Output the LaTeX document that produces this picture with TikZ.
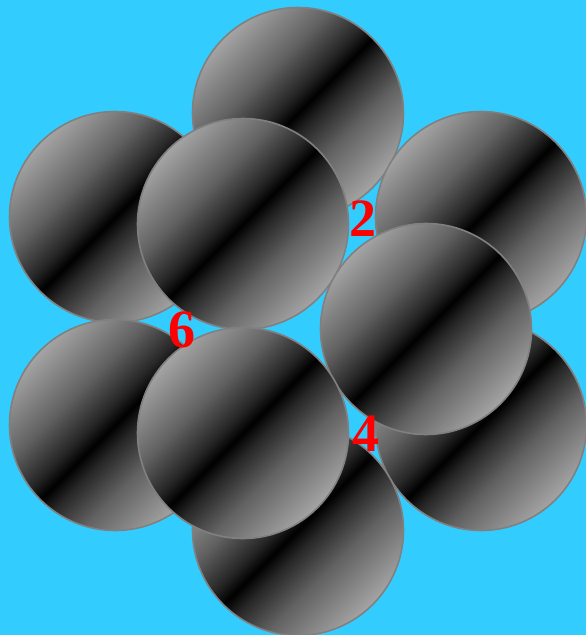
\documentclass[tikz,border=0pt]{standalone}
\usepackage{fontspec}
\setmainfont{Liberation Serif}
\definecolor{bg}{HTML}{33CCFF}
\definecolor{edgegray}{HTML}{A4A4A4}
\definecolor{midgray}{HTML}{626262}
\definecolor{darkgray}{HTML}{282828}
\definecolor{rimgray}{HTML}{808080}
\pgfdeclarehorizontalshading{band}{100bp}{color(0bp)=(edgegray); color(25bp)=(edgegray); color(38bp)=(midgray); color(46bp)=(darkgray); color(50bp)=(black); color(54bp)=(darkgray); color(62bp)=(midgray); color(75bp)=(edgegray); color(100bp)=(edgegray)}
\tikzset{
  ball/.style={circle, minimum size=211pt, inner sep=0pt, draw=rimgray, line width=1.6pt, shading=band, shading angle=-45},
  num/.style={text=red, font=\bfseries\fontsize{54}{54}\selectfont, inner sep=0pt}
}
\begin{document}
\begin{tikzpicture}[x=1pt, y=-1pt]
\useasboundingbox (0,0) rectangle (586,635);
\fill[bg] (0,0) rectangle (586,635);
% back ring
\node[ball] (btop) at (298,113) {};
\node[ball] (btl) at (115,217) {};
\node[ball] (btr) at (481,217) {};
\node[ball] (bbl) at (115,425) {};
\node[ball] (bbr) at (481,425) {};
\node[ball] (bbot) at (298,530) {};
% front layer
\node[ball] (f1) at (243,224) {};
\node[ball] (f2) at (426,329) {};
\node[ball] (f3) at (243,433) {};
% labels
\node[num] (n2) at (363,219) {2};
\node[num] (n6) at (182,330) {6};
\node[num] (n4) at (366,434) {4};
\end{tikzpicture}
\end{document}
